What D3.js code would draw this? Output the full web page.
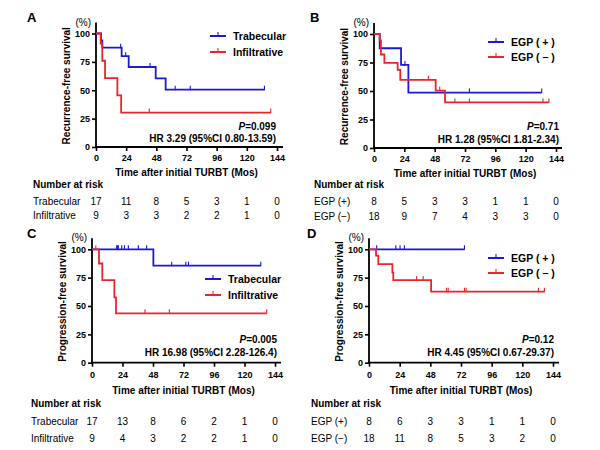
<!DOCTYPE html>
<html><head><meta charset="utf-8">
<script src="https://cdn.jsdelivr.net/npm/d3@7"></script>
<style>body{margin:0;background:#fff}svg{display:block}text{font-family:"Liberation Sans",Arial,sans-serif}</style>
</head><body><svg id="c" width="600" height="450"></svg>
<script>
// ---------- data ----------
const timeTicks = [0, 24, 48, 72, 96, 120, 144];
const survTicks = [0, 25, 50, 75, 100];

// Panel A: recurrence-free, Trabecular vs Infiltrative
const aTrabSteps = [[0,100],[4,94],[5,87.5],[20.4,80],[26,70.5],[47.5,60.5],[55.4,50.5]];
const aTrabEnd = 134;
const aTrabCensor = [19.6, 23.6, 43, 63, 75, 134];
const aInfSteps = [[0,100],[3.7,91],[5,76],[7.2,60.6],[17,45.5],[20,30.3]];
const aInfEnd = 139;
const aInfCensor = [42.4, 139];
const aRiskTrab = [17, 11, 8, 5, 3, 1, 0];
const aRiskInf = [9, 3, 3, 2, 2, 1, 0];

// Panel B: recurrence-free, EGP (+) vs EGP (−)
const bPosSteps = [[0,100],[4.5,87.5],[21.4,72.9],[27.2,48.6]];
const bPosEnd = 132.7;
const bPosCensor = [24.5, 75.5, 132.7];
const bNegSteps = [[0,100],[4.5,94.4],[5.5,82],[8.2,74.6],[18.7,68.6],[20.8,59.8],[48.8,50.4],[56.2,40]];
const bNegEnd = 138.4;
const bNegCensor = [43, 52, 64, 75.5, 133.7, 138.4];
const bRiskPos = [8, 5, 3, 3, 1, 1, 0];
const bRiskNeg = [18, 9, 7, 4, 3, 3, 0];

// Panel C: progression-free, Trabecular vs Infiltrative
const cTrabSteps = [[0,100],[48.3,85.6]];
const cTrabEnd = 132.8;
const cTrabCensor = [19.4, 20.2, 20.7, 23.4, 25.5, 28.6, 36.5, 43, 62.7, 73.8, 75.9, 132.8];
const cInfSteps = [[0,100],[5.5,87.5],[8.1,72.9],[17.6,57.6],[18.9,43.5]];
const cInfEnd = 137.5;
const cInfCensor = [3, 41.7, 60.9, 137.5];
const cRiskTrab = [17, 13, 8, 6, 2, 1, 0];
const cRiskInf = [9, 4, 3, 2, 2, 1, 0];

// Panel D: progression-free, EGP (+) vs EGP (−)
const dPosSteps = [[0,100]];
const dPosEnd = 74.7;
const dPosCensor = [6, 21, 24.3, 27.7, 74.7];
const dNegSteps = [[0,100],[5.5,94.4],[7.3,87],[18.3,79.4],[19,72.9],[48.6,62.6]];
const dNegEnd = 137.3;
const dNegCensor = [37.3, 42.4, 60.8, 62, 74.7, 76, 132.6, 137.3];
const dRiskPos = [8, 6, 3, 3, 1, 1, 0];
const dRiskNeg = [18, 11, 8, 5, 3, 2, 0];

const BLUE = "#1a1ad0", RED = "#e8262a";

// ---------- layout ----------
const panels = [
  {letter:"A", ylab:"Recurrence-free survival", x0:96, x1:277, yT:33.5, yB:147, lx:27, ly:22,
   legX:210, legY:[36,52], p:"0.099", hr:"HR 3.29 (95%CI 0.80-13.59)", pX:276, pY:126, hY:138,
   tickY:157.5, titleY:172.5, narX:33, narY:184.5, rowY:[201,215.5],
   series:[{name:"Trabecular", rl:"Trabecular", steps:aTrabSteps, end:aTrabEnd, cens:aTrabCensor, risk:aRiskTrab, color:BLUE},
           {name:"Infiltrative", rl:"Infiltrative", steps:aInfSteps, end:aInfEnd, cens:aInfCensor, risk:aRiskInf, color:RED}]},
  {letter:"B", ylab:"Recurrence-free survival", x0:374, x1:556, yT:34, yB:148, lx:310, ly:22,
   legX:488, legY:[42,57], p:"0.71", hr:"HR 1.28 (95%CI 1.81-2.34)", pX:559, pY:126, hY:139,
   tickY:159, titleY:173.5, narX:314, narY:184.5, rowY:[201,216],
   series:[{name:"EGP ( + )", rl:"EGP (+)", steps:bPosSteps, end:bPosEnd, cens:bPosCensor, risk:bRiskPos, color:BLUE},
           {name:"EGP ( \u2212 )", rl:"EGP (\u2212)", steps:bNegSteps, end:bNegEnd, cens:bNegCensor, risk:bRiskNeg, color:RED}]},
  {letter:"C", ylab:"Progression-free survival", x0:92, x1:275, yT:249.3, yB:362.7, lx:27, ly:238,
   legX:205, legY:[279,295], p:"0.005", hr:"HR 16.98 (95%CI 2.28-126.4)", pX:277, pY:339, hY:352,
   tickY:374.5, titleY:390, narX:31, narY:403, rowY:[421,438.5],
   series:[{name:"Trabecular", rl:"Trabecular", steps:cTrabSteps, end:cTrabEnd, cens:cTrabCensor, risk:cRiskTrab, color:BLUE},
           {name:"Infiltrative", rl:"Infiltrative", steps:cInfSteps, end:cInfEnd, cens:cInfCensor, risk:cRiskInf, color:RED}]},
  {letter:"D", ylab:"Progression-free survival", x0:369, x1:553, yT:249.3, yB:362.7, lx:307, ly:238,
   legX:488, legY:[258,273], p:"0.12", hr:"HR 4.45 (95%CI 0.67-29.37)", pX:554, pY:339, hY:352,
   tickY:374.5, titleY:390, narX:311, narY:403, rowY:[421,438.5],
   series:[{name:"EGP ( + )", rl:"EGP (+)", steps:dPosSteps, end:dPosEnd, cens:dPosCensor, risk:dRiskPos, color:BLUE},
           {name:"EGP ( \u2212 )", rl:"EGP (\u2212)", steps:dNegSteps, end:dNegEnd, cens:dNegCensor, risk:dRiskNeg, color:RED}]}
];

const svg = d3.select("#c");

function survAt(steps, t){
  let v = steps[0][1];
  for (const s of steps) if (s[0] <= t) v = s[1];
  return v;
}

panels.forEach(P => {
  const g = svg.append("g");
  const x = d3.scaleLinear().domain([0,144]).range([P.x0, P.x1]);
  const y = d3.scaleLinear().domain([0,100]).range([P.yB, P.yT]);

  // letter
  g.append("text").attr("x", P.lx).attr("y", P.ly).attr("font-size", 13).attr("font-weight", "bold").text(P.letter);
  // (%)
  g.append("text").attr("x", P.x0 - 5).attr("y", y(100) - 8).attr("text-anchor", "end")
    .attr("font-size", 10).text("(%)");
  // y label
  g.append("text").attr("transform", `translate(${P.x0 - 26},${(P.yB + y(100) - 9) / 2}) rotate(-90)`)
    .attr("text-anchor", "middle").attr("font-size", 10).attr("font-weight", "bold").text(P.ylab);

  // axes
  const ya = d3.axisLeft(y).tickValues(survTicks).tickSize(4).tickPadding(2).tickFormat(d3.format("d"));
  const yg = g.append("g").attr("transform", `translate(${P.x0},0)`).call(ya);
  const xa = d3.axisBottom(x).tickValues(timeTicks).tickSize(4).tickPadding(3).tickFormat(d3.format("d"));
  const xg = g.append("g").attr("transform", `translate(0,${P.yB})`).call(xa);
  [yg, xg].forEach(a => {
    a.select(".domain").remove();
    a.selectAll(".tick line").attr("stroke", "#000").attr("stroke-width", 1.6);
    a.selectAll(".tick text").attr("font-size", 9).attr("font-weight", "bold").attr("fill", "#000")
      .style("font-family", '"Liberation Sans",Arial,sans-serif');
  });
  xg.selectAll(".tick text").attr("y", P.tickY - P.yB).attr("dy", "0.35em");
  g.append("line").attr("x1", P.x0).attr("x2", P.x0).attr("y1", P.yB + 0.8).attr("y2", y(100) - 11)
    .attr("stroke", "#000").attr("stroke-width", 1.8);
  g.append("line").attr("x1", P.x0 - 0.9).attr("x2", x(144) + 6).attr("y1", P.yB).attr("y2", P.yB)
    .attr("stroke", "#000").attr("stroke-width", 1.8);

  // curves
  const line = d3.line().x(d => x(d[0])).y(d => y(d[1])).curve(d3.curveStepAfter);
  P.series.forEach(s => {
    const pts = s.steps.concat([[s.end, s.steps[s.steps.length - 1][1]]]);
    g.append("path").attr("d", line(pts)).attr("fill", "none").attr("stroke", s.color).attr("stroke-width", 1.8);
    g.selectAll(null).data(s.cens).enter().append("line")
      .attr("x1", d => x(d)).attr("x2", d => x(d))
      .attr("y1", d => y(survAt(s.steps, d)) - 4).attr("y2", d => y(survAt(s.steps, d)) + 0.5)
      .attr("stroke", s.color).attr("stroke-width", 1.1);
  });

  // legend
  P.series.forEach((s, i) => {
    const ly = P.legY[i];
    g.append("line").attr("x1", P.legX).attr("x2", P.legX + 16).attr("y1", ly).attr("y2", ly)
      .attr("stroke", s.color).attr("stroke-width", 2);
    g.append("line").attr("x1", P.legX + 8).attr("x2", P.legX + 8).attr("y1", ly - 4).attr("y2", ly)
      .attr("stroke", s.color).attr("stroke-width", 1.1);
    g.append("text").attr("x", P.legX + 23).attr("y", ly).attr("dy", "0.35em")
      .attr("font-size", 10.5).attr("font-weight", "bold").text(s.name);
  });

  // P and HR
  const pt = g.append("text").attr("x", P.pX).attr("y", P.pY).attr("dy", "0.35em").attr("text-anchor", "end")
    .attr("font-size", 10).attr("font-weight", "bold");
  pt.append("tspan").attr("font-style", "italic").text("P");
  pt.append("tspan").text("=" + P.p);
  g.append("text").attr("x", P.pX).attr("y", P.hY).attr("dy", "0.35em").attr("text-anchor", "end")
    .attr("font-size", 10).attr("font-weight", "bold").text(P.hr);

  // x title
  g.append("text").attr("x", (x(0) + x(144)) / 2).attr("y", P.titleY).attr("dy", "0.35em").attr("text-anchor", "middle")
    .attr("font-size", 10).attr("font-weight", "bold").text("Time after initial TURBT (Mos)");

  // risk table
  g.append("text").attr("x", P.narX).attr("y", P.narY).attr("dy", "0.35em")
    .attr("font-size", 10).attr("font-weight", "bold").text("Number at risk");
  P.series.forEach((s, i) => {
    const ry = P.rowY[i];
    g.append("text").attr("x", P.narX).attr("y", ry).attr("dy", "0.35em").attr("font-size", 10).text(s.rl);
    g.selectAll(null).data(s.risk).enter().append("text")
      .attr("x", (d, j) => x(timeTicks[j])).attr("y", ry).attr("dy", "0.35em")
      .attr("text-anchor", "middle").attr("font-size", 10).text(d => d);
  });
});
</script></body></html>
